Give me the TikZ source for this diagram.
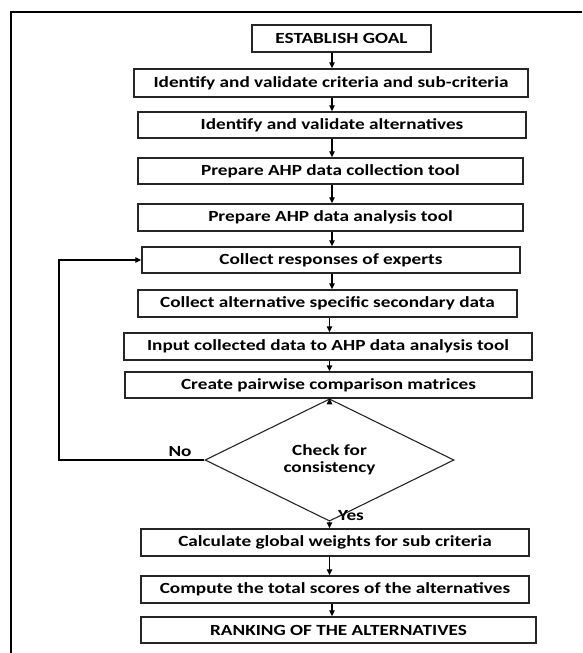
\documentclass[tikz,border=0pt]{standalone}
\usepackage{fontspec}
\setmainfont{Carlito}[FakeStretch=1.24]
\usetikzlibrary{shapes.geometric,arrows.meta}

\begin{document}
\begin{tikzpicture}[x=1pt,y=-1pt,
		font=\fontsize{15.5}{17}\selectfont\bfseries,
		stepbox/.style={draw=black!85, line width=1.4pt, inner sep=0pt},
		checkbox/.style={draw=black!85, line width=1.1pt, diamond, inner sep=0pt, align=center},
		arr/.style={line width=1.3pt, -{Triangle[length=6pt,width=5.5pt]}}]
		\useasboundingbox (0,0) rectangle (582,653);
		\fill[white] (0,0) rectangle (582,653);
		
		\draw[line width=2pt] (582,11.5) -- (11,11.5) -- (11,653);
		
		\coordinate (spine) at (332,0);
		
		\node[stepbox, minimum width=179pt, minimum height=27pt] (goal) at (341.5,38.5) {ESTABLISH GOAL};
		\node[stepbox, minimum width=394pt, minimum height=28pt] (crit) at (331,83) {Identify and validate criteria and sub-criteria};
		\node[stepbox, minimum width=388pt, minimum height=26pt] (alts) at (332,125) {Identify and validate alternatives};
		\node[stepbox, minimum width=385pt, minimum height=26pt] (coll) at (330.5,171) {Prepare AHP data collection tool};
		\node[stepbox, minimum width=385pt, minimum height=27pt] (anal) at (330.5,217.5) {Prepare AHP data analysis tool};
		\node[stepbox, minimum width=378pt, minimum height=26pt] (resp) at (331,260) {Collect responses of experts};
		\node[stepbox, minimum width=379pt, minimum height=27pt] (sec) at (327.5,303.5) {Collect alternative specific secondary data};
		\node[stepbox, minimum width=408pt, minimum height=27pt] (input) at (328,346.5) {Input collected data to AHP data analysis tool};
		\node[stepbox, minimum width=407pt, minimum height=26pt] (pair) at (328.5,385) {Create pairwise comparison matrices};
		\node[checkbox, minimum width=249pt, minimum height=92pt] (dia) at (329.5,460) {Check for\\consistency};
		\node[stepbox, minimum width=388pt, minimum height=27pt] (calc) at (335,542.5) {Calculate global weights for sub criteria};
		\node[stepbox, minimum width=388pt, minimum height=27pt] (comp) at (335,589.5) {Compute the total scores of the alternatives};
		\node[stepbox, minimum width=395pt, minimum height=26pt] (rank) at (338.5,630) {RANKING OF THE ALTERNATIVES};
		
		\draw[arr] (goal.south -| spine) -- (crit.north -| spine);
		\draw[arr] (crit.south -| spine) -- (alts.north -| spine);
		\draw[arr] (alts.south -| spine) -- (coll.north -| spine);
		\draw[arr] (coll.south -| spine) -- (anal.north -| spine);
		\draw[arr] (anal.south -| spine) -- (resp.north -| spine);
		\draw[arr] (resp.south -| spine) -- (sec.north -| spine);
		\draw[arr] (sec.south -| dia) -- (input.north -| dia);
		\draw[arr] (input.south -| dia) -- (pair.north -| dia);
		\draw[arr] (pair.south -| dia) -- (dia.north);
		\draw[arr] (dia.south) -- (calc.north -| dia);
		\draw[arr] (calc.south -| dia) -- (comp.north -| dia);
		\draw[arr] (comp.south -| spine) -- (rank.north -| spine);
		
		\coordinate (back) at (59,460);
		\draw[arr] (dia.west) -- (back) |- (resp.west);
		
		\node (no) at (180,452) {No};
		\node (yes) at (351,516) {Yes};
	\end{tikzpicture}
\end{document}
